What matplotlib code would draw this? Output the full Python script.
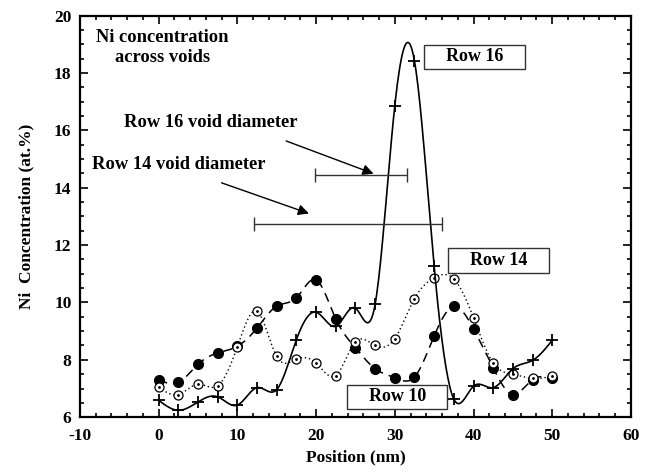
import numpy as np
import matplotlib
matplotlib.use('Agg')
import matplotlib.pyplot as plt
from matplotlib.ticker import MultipleLocator

plt.rcParams['font.family'] = ['Liberation Serif', 'DejaVu Serif']
plt.rcParams['font.weight'] = 'bold'
plt.rcParams['axes.unicode_minus'] = False

# positions along the line scan (nm)
position = [0, 2.5, 5, 7.5, 10, 12.5, 15, 17.5, 20, 22.5, 25, 27.5, 30,
            32.5, 35, 37.5, 40, 42.5, 45, 47.5, 50]

# Ni concentration (at.%)
row16 = [6.59, 6.24, 6.53, 6.71, 6.42, 7.03, 6.96, 8.70, 9.66, 9.17, 9.80,
         9.93, 16.85, 18.42, 11.26, 6.63, 7.08, 7.03, 7.69, 7.98, 8.68]
row14 = [7.05, 6.79, 7.15, 7.09, 8.45, 9.69, 8.12, 8.02, 7.89, 7.45, 8.62,
         8.50, 8.74, 10.13, 10.86, 10.82, 9.47, 7.89, 7.50, 7.35, 7.43]
row10 = [7.31, 7.21, 7.84, 8.24, 8.47, 9.11, 9.87, 10.16, 10.79, 9.43, 8.42,
         7.69, 7.38, 7.40, 8.83, 9.86, 9.08, 7.72, 6.79, 7.31, 7.35]

# void diameters (start, end, level)
void16 = [19.9, 31.6, 14.45]
void14 = [12.15, 36.0, 12.74]


def spline(x, y, n=400):
    # natural cubic spline, just for the smooth connecting lines
    x = np.asarray(x, float)
    y = np.asarray(y, float)
    h = np.diff(x)
    m = len(x)
    A = np.zeros((m, m))
    b = np.zeros(m)
    A[0, 0] = 1
    A[-1, -1] = 1
    for i in range(1, m - 1):
        A[i, i - 1] = h[i - 1]
        A[i, i] = 2 * (h[i - 1] + h[i])
        A[i, i + 1] = h[i]
        b[i] = 3 * ((y[i + 1] - y[i]) / h[i] - (y[i] - y[i - 1]) / h[i - 1])
    c = np.linalg.solve(A, b)
    xs = np.linspace(x[0], x[-1], n)
    idx = np.clip(np.searchsorted(x, xs) - 1, 0, m - 2)
    dx = xs - x[idx]
    bb = (y[idx + 1] - y[idx]) / h[idx] - h[idx] * (2 * c[idx] + c[idx + 1]) / 3
    dd = (c[idx + 1] - c[idx]) / (3 * h[idx])
    ys = y[idx] + bb * dx + c[idx] * dx ** 2 + dd * dx ** 3
    return xs, ys


fig = plt.figure(figsize=(6.6, 4.73), dpi=100)
ax = fig.add_axes([0.121, 0.118, 0.835, 0.849])

xs, ys = spline(position, row10)
ax.plot(xs, ys, color='k', lw=1.1, ls=(0, (6, 4)))
ax.plot(position, row10, 'o', color='k', ms=7, ls='none')

xs, ys = spline(position, row14)
ax.plot(xs, ys, color='k', lw=1.0, ls=(0, (1, 2)))
ax.plot(position, row14, 'o', mfc='white', mec='k', mew=0.9, ms=6.5, ls='none')
ax.plot(position, row14, '.', color='k', ms=2, ls='none')

xs, ys = spline(position, row16)
ax.plot(xs, ys, color='k', lw=1.2)
ax.plot(position, row16, '+', color='k', ms=8, mew=1.3, ls='none')

# void diameter bars
for v in [void16, void14]:
    ax.errorbar((v[0] + v[1]) / 2, v[2], xerr=(v[1] - v[0]) / 2, color='k',
                lw=1.0, capsize=5, capthick=1.0, ecolor='#333333', fmt='none')

ax.text(0.5, 19.25, 'Ni concentration', ha='center', va='center', fontsize=13.3,
        fontweight='bold')
ax.text(0.5, 18.55, 'across voids', ha='center', va='center', fontsize=13.3,
        fontweight='bold')
ax.text(6.6, 16.26, 'Row 16 void diameter', ha='center', va='center',
        fontsize=13.3, fontweight='bold')
ax.text(2.5, 14.8, 'Row 14 void diameter', ha='center', va='center',
        fontsize=13.3, fontweight='bold')

arrow = dict(arrowstyle='-|>', color='k', lw=1.0, mutation_scale=16,
             shrinkA=0, shrinkB=0)
ax.annotate('', xy=(27.3, 14.49), xytext=(16.2, 15.63), arrowprops=arrow)
ax.annotate('', xy=(19.1, 13.1), xytext=(8.0, 14.17), arrowprops=arrow)

box = dict(boxstyle='square,pad=0.2', fc='white', ec='#333333', lw=1.0)
ax.text(40.1, 18.56, '    Row 16    ', ha='center', va='center', fontsize=13,
        fontweight='bold', bbox=box)
ax.text(43.2, 11.46, '    Row 14    ', ha='center', va='center', fontsize=13,
        fontweight='bold', bbox=box)
ax.text(30.3, 6.71, '    Row 10    ', ha='center', va='center', fontsize=13,
        fontweight='bold', bbox=box)

ax.set_xlim(-10, 60)
ax.set_ylim(6, 20)
ax.xaxis.set_major_locator(MultipleLocator(10))
ax.xaxis.set_minor_locator(MultipleLocator(2))
ax.yaxis.set_major_locator(MultipleLocator(2))
ax.yaxis.set_minor_locator(MultipleLocator(0.5))
ax.tick_params(which='both', direction='in', top=True, right=True, width=1.2)
ax.tick_params(which='major', length=6, labelsize=12.5)
ax.tick_params(which='minor', length=3)
ax.tick_params(axis='x', which='major', pad=8)
ax.tick_params(axis='y', which='major', pad=6)
for lab in ax.get_xticklabels() + ax.get_yticklabels():
    lab.set_fontweight('bold')
for s in ax.spines.values():
    s.set_linewidth(1.6)

ax.set_xlabel('Position (nm)', fontsize=12.5, fontweight='bold', labelpad=4)
ax.set_ylabel('Ni  Concentration (at.%)', fontsize=12.5, fontweight='bold',
              labelpad=14)

fig.savefig('out.png', dpi=100)
